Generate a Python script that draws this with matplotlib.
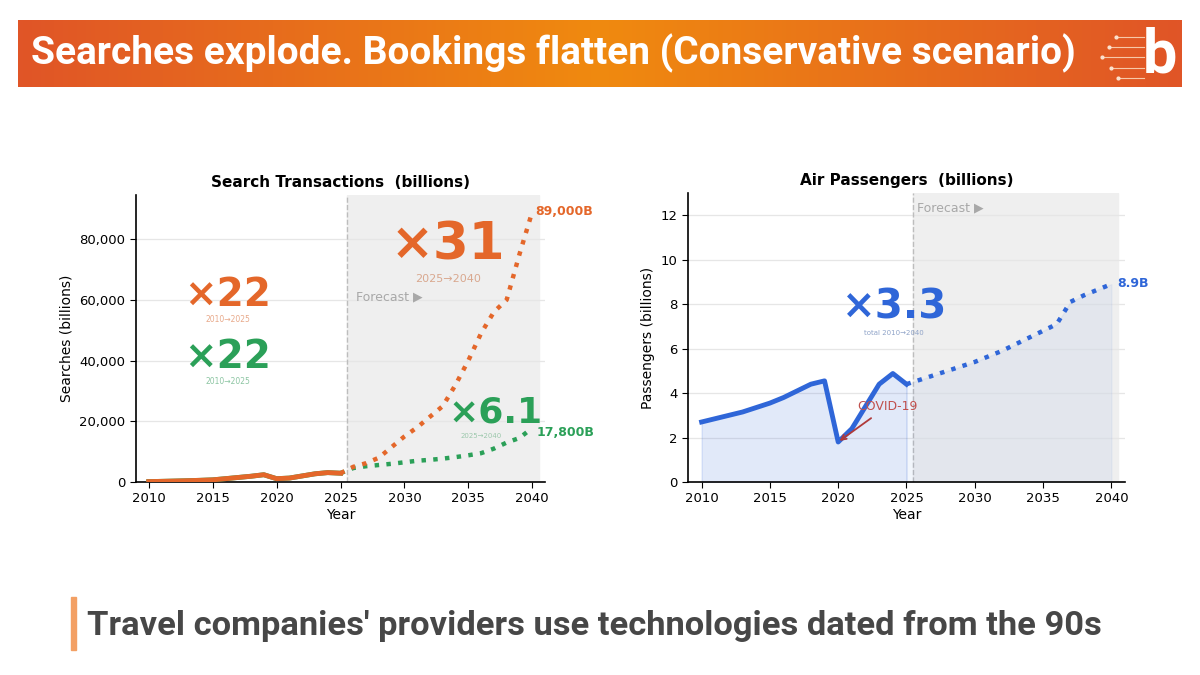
import numpy as np
import matplotlib.pyplot as plt
from matplotlib.colors import LinearSegmentedColormap
from matplotlib.patches import Rectangle

# data
years_hist = list(range(2010, 2026))
years_fc = list(range(2025, 2041))

searches_hist = [130, 220, 320, 430, 560, 720, 1100, 1500, 1900, 2400,
                 1100, 1300, 2000, 2700, 3100, 2900]
searches_fc = [2900, 5000, 6200, 8000, 11500, 15000, 18000, 21500, 25000,
               32000, 40000, 49000, 56000, 60000, 75000, 89000]
bookings_hist = searches_hist
bookings_fc = [2900, 4600, 5200, 5600, 6000, 6500, 7000, 7300, 7700,
               8200, 8800, 9500, 11000, 13000, 14500, 17800]

pax_hist = [2.7, 2.85, 3.0, 3.15, 3.35, 3.55, 3.8, 4.1, 4.4, 4.55,
            1.8, 2.4, 3.4, 4.4, 4.88, 4.4]
pax_fc = [4.4, 4.6, 4.8, 5.0, 5.2, 5.4, 5.65, 5.9, 6.2, 6.5,
          6.8, 7.1, 8.1, 8.4, 8.65, 8.9]

ORANGE = '#e4672a'
GREEN = '#2ba058'
BLUE = '#2f66d8'
GRID = '#e6e6e6'
SHADE = '#efefef'

plt.rcParams['font.family'] = ['DejaVu Sans']


def style_axes(ax, title, ylabel):
    ax.set_title(title, fontsize=11, fontweight='bold', pad=6)
    ax.set_xlabel('Year', fontsize=10, labelpad=2)
    ax.set_ylabel(ylabel, fontsize=10)
    ax.spines['top'].set_visible(False)
    ax.spines['right'].set_visible(False)
    ax.spines['left'].set_linewidth(1.2)
    ax.spines['bottom'].set_linewidth(1.2)
    ax.grid(axis='y', color=GRID, linewidth=0.9)
    ax.set_axisbelow(True)
    ax.tick_params(labelsize=9.5, length=4)
    ax.set_xticks(range(2010, 2041, 5))
    ax.set_xlim(2009, 2041)
    # forecast area
    ax.axvspan(2025.5, 2040.5, color=SHADE, zorder=0)
    ax.axvline(2025.5, color='#bdbdbd', linestyle='--', linewidth=1, zorder=1)


def plot_searches(ax):
    style_axes(ax, 'Search Transactions  (billions)', 'Searches (billions)')
    ax.set_ylim(0, 94500)
    ax.set_yticks(range(0, 80001, 20000))
    ax.yaxis.set_major_formatter(plt.FuncFormatter(lambda v, p: f'{int(v):,}'))

    ax.plot(years_hist, bookings_hist, color=GREEN, linewidth=3.5, zorder=3)
    ax.plot(years_fc, bookings_fc, color=GREEN, linewidth=3.2, linestyle=':', zorder=3)
    ax.plot(years_hist, searches_hist, color=ORANGE, linewidth=3.5, zorder=4)
    ax.plot(years_fc, searches_fc, color=ORANGE, linewidth=3.2, linestyle=':', zorder=4)

    ax.text(2040.2, searches_fc[-1], '89,000B', color=ORANGE, fontsize=9,
            fontweight='bold', ha='left', va='center')
    ax.text(2040.3, bookings_fc[-1] - 1500, '17,800B', color=GREEN, fontsize=9,
            fontweight='bold', ha='left', va='center')
    ax.text(2026.2, 60800, 'Forecast ▶', color='#a8a8a8', fontsize=9, va='center')

    # growth multipliers
    ax.text(2016.2, 61500, '×22', color=ORANGE, fontsize=28, fontweight='bold',
            ha='center', va='center')
    ax.text(2016.2, 53500, '2010→2025', color='#e8a98a', fontsize=5.5, ha='center', va='center')
    ax.text(2016.2, 41300, '×22', color=GREEN, fontsize=28, fontweight='bold',
            ha='center', va='center')
    ax.text(2016.2, 33000, '2010→2025', color='#8cc5a2', fontsize=5.5, ha='center', va='center')
    ax.text(2033.4, 78000, '×31', color=ORANGE, fontsize=37, fontweight='bold',
            ha='center', va='center')
    ax.text(2033.4, 66900, '2025→2040', color='#d9a88f', fontsize=8, ha='center', va='center')
    ax.text(2037.1, 23000, '×6.1', color=GREEN, fontsize=26, fontweight='bold',
            ha='center', va='center')
    ax.text(2036.0, 15300, '2025→2040', color='#9cc8ac', fontsize=5, ha='center', va='center')


def plot_passengers(ax):
    style_axes(ax, 'Air Passengers  (billions)', 'Passengers (billions)')
    ax.set_ylim(0, 13)
    ax.set_yticks(range(0, 13, 2))

    ax.fill_between(years_hist, 0, pax_hist, color=BLUE, alpha=0.14, zorder=2)
    ax.fill_between(years_fc, 0, pax_fc, color=BLUE, alpha=0.06, zorder=2)
    ax.plot(years_hist, pax_hist, color=BLUE, linewidth=3.5, zorder=4)
    ax.plot(years_fc, pax_fc, color=BLUE, linewidth=3.2, linestyle=':', zorder=4)

    ax.text(2040.4, pax_fc[-1] + 0.05, '8.9B', color=BLUE, fontsize=9,
            fontweight='bold', ha='left', va='center')
    ax.text(2025.8, 12.35, 'Forecast ▶', color='#a8a8a8', fontsize=9, va='center')
    ax.text(2024.1, 7.85, '×3.3', color=BLUE, fontsize=29, fontweight='bold',
            ha='center', va='center')
    ax.text(2024.1, 6.7, 'total 2010→2040', color='#8fa3c8', fontsize=5, ha='center', va='center')

    ax.annotate('COVID-19', xy=(2020.1, 1.85), xytext=(2023.6, 3.4),
                color='#c0504d', fontsize=9, ha='center', va='center', zorder=5,
                arrowprops=dict(arrowstyle='->', color='#b03a3a', lw=1.3,
                                shrinkA=3, shrinkB=0))


fig = plt.figure(figsize=(12, 6.75), dpi=100)
fig.patch.set_facecolor('white')

# header band with gradient
hdr = fig.add_axes([0.015, 0.871, 0.97, 0.099])
grad = LinearSegmentedColormap.from_list('hdr', ['#e05527', '#f08a0f', '#e05527'])
hdr.imshow(np.linspace(0, 1, 256).reshape(1, -1), cmap=grad, aspect='auto',
           extent=[0, 1, 0, 1])
hdr.set_axis_off()
fig.text(0.026, 0.921, 'Searches explode. Bookings flatten (Conservative scenario)',
         color='white', fontsize=28, fontweight='bold', va='center', ha='left',
         family=['Roboto', 'DejaVu Sans'])

# logo: white "b" with small circuit traces
fig.text(0.967, 0.918, 'b', color='white', fontsize=44, fontweight='bold',
         ha='center', va='center', family=['Roboto', 'DejaVu Sans'])
for yy, x0 in [(0.945, 0.930), (0.930, 0.924), (0.915, 0.918), (0.900, 0.926), (0.885, 0.932)]:
    fig.add_artist(plt.Line2D([x0, 0.953], [yy, yy], color='#f7c8a8', linewidth=0.8))
    fig.add_artist(plt.Line2D([x0], [yy], marker='o', markersize=2, color='#fbe2cf'))

ax1 = fig.add_axes([0.1133, 0.2859, 0.3409, 0.4252])
ax2 = fig.add_axes([0.5733, 0.2859, 0.3642, 0.4282])
plot_searches(ax1)
plot_passengers(ax2)

# bottom caption with accent bar
fig.add_artist(Rectangle((0.0592, 0.037), 0.004, 0.078, transform=fig.transFigure,
                         color='#f3a064'))
fig.text(0.0725, 0.072, "Travel companies' providers use technologies dated from the 90s",
         color='#474747', fontsize=24.8, fontweight='bold', va='center', ha='left',
         family=['Roboto', 'DejaVu Sans'])

fig.savefig('out.png', dpi=100)
